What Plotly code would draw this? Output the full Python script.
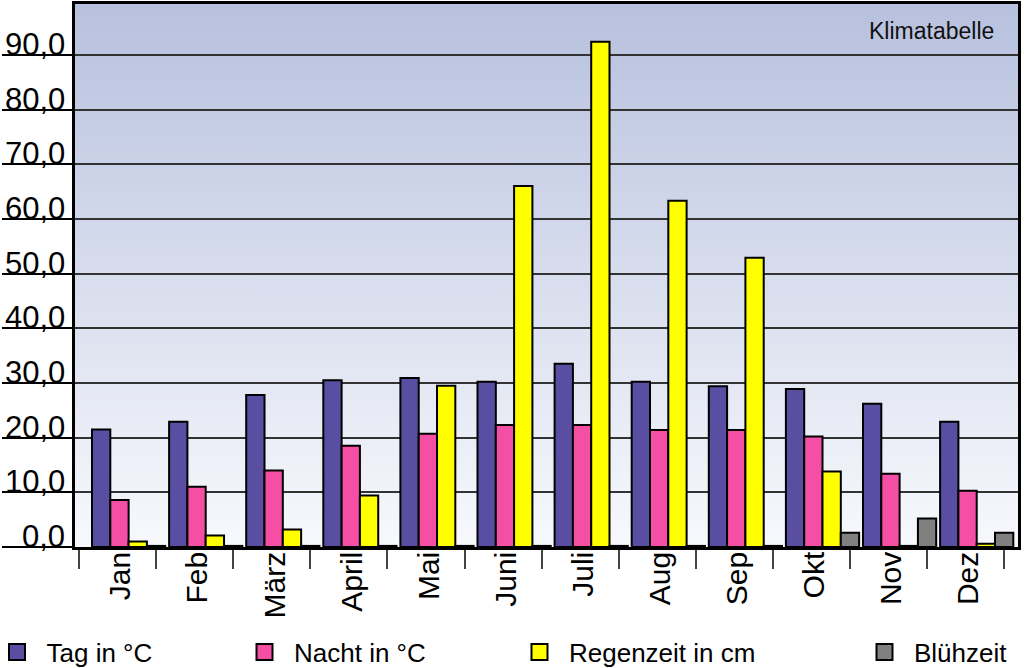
import base64
import plotly.graph_objects as go

# ---- data ----
months = ["Jan", "Feb", "März", "April", "Mai", "Juni", "Juli", "Aug", "Sep", "Okt", "Nov", "Dez"]
tag = [21.5, 22.9, 27.8, 30.5, 30.9, 30.2, 33.5, 30.2, 29.4, 28.9, 26.2, 22.9]
nacht = [8.6, 11.0, 14.0, 18.5, 20.7, 22.3, 22.3, 21.4, 21.4, 20.2, 13.4, 10.3]
regen = [1.0, 2.1, 3.2, 9.4, 29.5, 66.0, 92.4, 63.3, 52.9, 13.8, 0.2, 0.6]
bluete = [0.2, 0.2, 0.2, 0.2, 0.2, 0.2, 0.2, 0.2, 0.2, 2.6, 5.2, 2.6]
y_tick_values = [0, 10, 20, 30, 40, 50, 60, 70, 80, 90]
y_tick_labels = ["0,0", "10,0", "20,0", "30,0", "40,0", "50,0", "60,0", "70,0", "80,0", "90,0"]
series_names = ["Tag in °C", "Nacht in °C", "Regenzeit in cm", "Blühzeit"]
chart_title = "Klimatabelle"

# ---- styling ----
colors = ["#5a4ea2", "#f44fa4", "#ffff00", "#808080"]
FONT = "Liberation Sans, Arial, sans-serif"
W, H = 1024, 668
ML, MR, MT, MB = 75, 6, 4, 121
bar_w = 0.2374
group_start = -0.3314

series = [tag, nacht, regen, bluete]
xs = list(range(len(months)))

fig = go.Figure()
for k, (name, vals, col) in enumerate(zip(series_names, series, colors)):
    fig.add_trace(go.Bar(
        x=xs, y=vals, name=name, width=bar_w, offset=group_start + k * bar_w,
        marker=dict(color=col, line=dict(color="black", width=2)),
        showlegend=False, hoverinfo="y",
    ))

# legend entries (one legend box per series so positions match the reference)
legend_symbol_px = [16.5, 264, 539, 884]
legend_ids = ["legend", "legend2", "legend3", "legend4"]
for name, col, lid in zip(series_names, colors, legend_ids):
    fig.add_trace(go.Scatter(
        x=[None], y=[None], mode="markers", name=name, legend=lid,
        marker=dict(symbol="square", size=16, color=col, line=dict(color="black", width=2)),
    ))

ITEMW = 49
plot_w = W - ML - MR
plot_h = H - MT - MB
legend_layouts = {}
for lid, px in zip(legend_ids, legend_symbol_px):
    legend_layouts[lid] = dict(
        x=(px - (ITEMW / 2 + 4.5) - ML) / plot_w, xanchor="left",
        y=(547 - 652) / plot_h, yanchor="middle",
        font=dict(family=FONT, size=26, color="black"),
        bgcolor="rgba(0,0,0,0)", borderwidth=0, itemwidth=ITEMW,
    )

# y tick labels drawn above their (extended) tick lines
annotations = []
for v, lab in zip(y_tick_values, y_tick_labels):
    annotations.append(dict(
        x=0, xref="paper", xanchor="right", xshift=-8,
        y=v, yref="y", yanchor="bottom", yshift=-9,
        text=lab, showarrow=False, font=dict(family=FONT, size=31, color="black"),
    ))
annotations.append(dict(
    x=1, xref="paper", xanchor="right", xshift=-22,
    y=1, yref="paper", yanchor="top", yshift=-12,
    text=chart_title, showarrow=False, font=dict(family=FONT, size=23, color="#111"),
))

svg = ('<svg xmlns="http://www.w3.org/2000/svg" width="10" height="100" viewBox="0 0 10 100" '
       'preserveAspectRatio="none"><defs><linearGradient id="g" x1="0" y1="0" x2="0" y2="1">'
       '<stop offset="0" stop-color="#b7c1de"/><stop offset="1" stop-color="#f8f9fd"/>'
       '</linearGradient></defs><rect x="0" y="0" width="10" height="100" fill="url(#g)"/></svg>')
bg_src = "data:image/svg+xml;base64," + base64.b64encode(svg.encode()).decode()

n = len(months)
fig.update_layout(
    width=W, height=H,
    margin=dict(l=ML, r=MR, t=MT, b=MB, autoexpand=False),
    paper_bgcolor="white", plot_bgcolor="rgba(0,0,0,0)",
    barmode="group",
    font=dict(family=FONT, color="black"),
    annotations=annotations,
    images=[dict(source=bg_src, xref="paper", yref="paper", x=0, y=1, sizex=1, sizey=1,
                 xanchor="left", yanchor="top", sizing="stretch", layer="below")],
    xaxis=dict(
        range=[-0.552, n - 0.321], tickmode="array", tickvals=xs, ticktext=months,
        tickangle=-90, ticks="", tickfont=dict(family=FONT, size=30, color="black"),
        ticklabelstandoff=-10, ticklabelshift=3,
        showgrid=False, zeroline=False, showline=True, linecolor="black", linewidth=2.5,
        mirror=True, fixedrange=True,
        minor=dict(tickmode="array", tickvals=[i - 0.5 for i in range(n + 1)],
                   ticks="outside", ticklen=19, tickwidth=2, tickcolor="#444", showgrid=False),
    ),
    yaxis=dict(
        range=[0, 99.3], tickmode="array", tickvals=y_tick_values, showticklabels=False,
        ticks="outside", ticklen=70, tickwidth=2, tickcolor="black",
        showgrid=True, gridcolor="#333", gridwidth=1.5, zeroline=False,
        showline=True, linecolor="black", linewidth=2.5, mirror=True, fixedrange=True,
    ),
    **legend_layouts,
)

fig.write_html(
    "out.html",
    config={"displayModeBar": False},
    post_script="document.body.style.margin='0';document.body.style.overflow='hidden';",
)
